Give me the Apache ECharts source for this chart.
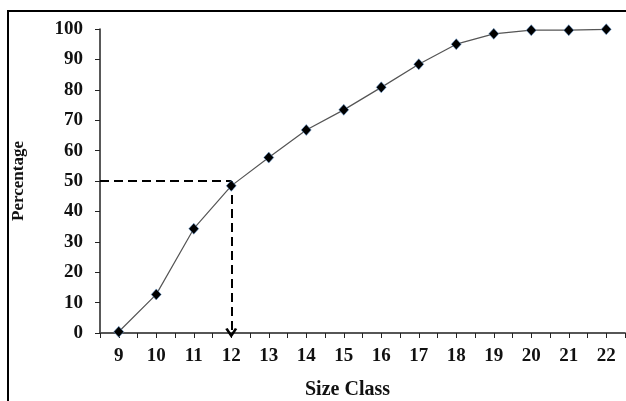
<!DOCTYPE html>
<html>
<head>
<meta charset="utf-8">
<script src="https://cdn.jsdelivr.net/npm/echarts@6/dist/echarts.min.js"></script>
<style>
html,body{margin:0;padding:0;background:#fff;}
#chart{width:626px;height:401px;}
</style>
</head>
<body>
<div id="chart"></div>
<script>
// Data
var sizeClasses = [9, 10, 11, 12, 13, 14, 15, 16, 17, 18, 19, 20, 21, 22];
var percentages = [0.4, 12.7, 34.3, 48.4, 57.7, 66.8, 73.4, 80.8, 88.4, 95.0, 98.4, 99.6, 99.6, 99.9];
var yTicks = [0, 10, 20, 30, 40, 50, 60, 70, 80, 90, 100];
var medianClass = 12;
var medianPercent = 50;
var xName = 'Size Class';
var yName = 'Percentage';

var points = sizeClasses.map(function (c, i) { return [c, percentages[i]]; });
var font = '"Liberation Serif", "Times New Roman", serif';

var chart = echarts.init(document.getElementById('chart'), null, {renderer: 'canvas'});
chart.setOption({
  animation: false,
  backgroundColor: '#ffffff',
  graphic: [{
    type: 'rect',
    shape: {x: 8, y: 11, width: 700, height: 500},
    style: {fill: 'none', stroke: '#000', lineWidth: 2},
    silent: true
  }],
  grid: {left: 100, right: 1, top: 29, bottom: 68, containLabel: false, outerBoundsMode: 'none'},
  xAxis: [{
    type: 'value',
    min: 8.5,
    max: 22.5,
    interval: 0.5,
    name: xName,
    nameLocation: 'middle',
    nameGap: 47,
    nameTextStyle: {fontFamily: font, fontWeight: 'bold', fontSize: 20, color: '#111', padding: [0, 30, 0, 0]},
    axisLine: {show: true, onZero: false, lineStyle: {color: '#222', width: 1.5}},
    axisTick: {show: true, inside: false, length: 5, lineStyle: {color: '#222', width: 1}},
    axisLabel: {
      margin: 14,
      fontFamily: font, fontWeight: 'bold', fontSize: 19, color: '#111',
      formatter: function (v) { return Math.abs(v - Math.round(v)) < 1e-6 ? String(Math.round(v)) : ''; }
    },
    splitLine: {show: false}
  }, {
    type: 'value',
    position: 'top',
    min: 8.5,
    max: 22.5,
    axisLine: {show: true, lineStyle: {color: '#555', width: 1.5}},
    axisTick: {show: false},
    axisLabel: {show: false},
    splitLine: {show: false}
  }],
  yAxis: {
    type: 'value',
    min: yTicks[0],
    max: yTicks[yTicks.length - 1],
    interval: 10,
    name: yName,
    nameLocation: 'middle',
    nameGap: 73,
    nameRotate: 90,
    nameTextStyle: {fontFamily: font, fontWeight: 'bold', fontSize: 17, color: '#111'},
    axisLine: {show: true, lineStyle: {color: '#222', width: 1.5}},
    axisTick: {show: true, inside: false, length: 5, lineStyle: {color: '#222', width: 1}},
    axisLabel: {margin: 17, fontFamily: font, fontWeight: 'bold', fontSize: 19, color: '#111'},
    splitLine: {show: false}
  },
  series: [{
    type: 'line',
    data: points,
    xAxisIndex: 0,
    symbol: 'diamond',
    symbolSize: [10, 11],
    showAllSymbol: true,
    lineStyle: {color: '#555', width: 1.2},
    itemStyle: {color: '#000', borderColor: 'rgba(110,160,215,0.7)', borderWidth: 0.8},
    z: 5,
    markLine: {
      silent: true,
      animation: false,
      label: {show: false},
      symbol: ['none', 'none'],
      lineStyle: {color: '#000', width: 2, type: [9, 5]},
      data: [
        [{coord: [8.5, medianPercent]}, {coord: [medianClass, medianPercent]}],
        [{coord: [medianClass, medianPercent], symbol: 'none'},
         {coord: [medianClass, 0], symbol: 'path://M0,9 L5,0 L10,9 L8,10 L5,4.5 L2,10 Z', symbolSize: [12, 10]}]
      ]
    }
  }]
});
</script>
</body>
</html>
